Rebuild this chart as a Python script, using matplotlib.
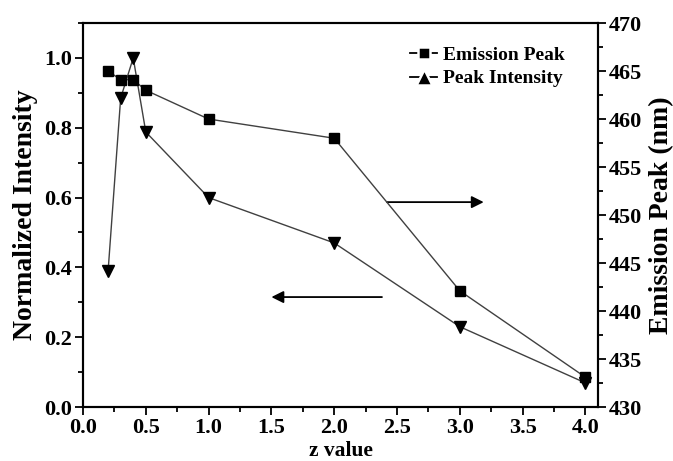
import matplotlib
matplotlib.use('Agg')
import matplotlib.pyplot as plt
from matplotlib.ticker import MultipleLocator, FormatStrFormatter
from matplotlib.lines import Line2D

# data
z = [0.2, 0.3, 0.4, 0.5, 1.0, 2.0, 3.0, 4.0]
intensity = [0.39, 0.885, 1.0, 0.788, 0.60, 0.47, 0.23, 0.069]
emission = [465.0, 464.1, 464.1, 463.0, 460.0, 458.0, 442.1, 433.1]

plt.rcParams['font.family'] = ['Liberation Serif', 'DejaVu Serif']
plt.rcParams['font.weight'] = 'bold'

fig = plt.figure(figsize=(6.73, 4.61), dpi=100)
ax = fig.add_axes([0.1233, 0.1171, 0.7653, 0.8329])
ax2 = ax.twinx()

line_col = '#404040'
ax2.plot(z, emission, color=line_col, lw=1.0, marker='s', ms=7,
         mfc='black', mec='black')
ax.plot(z, intensity, color=line_col, lw=1.0, marker='v', ms=8,
        mfc='black', mec='black')

ax.set_xlim(0, 4.1)
ax.set_ylim(0, 1.1)
ax2.set_ylim(430, 470)

ax.xaxis.set_major_locator(MultipleLocator(0.5))
ax.xaxis.set_minor_locator(MultipleLocator(0.25))
ax.yaxis.set_major_locator(MultipleLocator(0.2))
ax.yaxis.set_minor_locator(MultipleLocator(0.1))
ax2.yaxis.set_major_locator(MultipleLocator(5))
ax2.yaxis.set_minor_locator(MultipleLocator(2.5))
ax.xaxis.set_major_formatter(FormatStrFormatter('%.1f'))
ax.yaxis.set_major_formatter(FormatStrFormatter('%.1f'))

for a in (ax, ax2):
    a.tick_params(which='major', direction='out', length=6, width=1.3, labelsize=16, pad=2)
    a.tick_params(which='minor', direction='out', length=3.5, width=1.3)
    for sp in a.spines.values():
        sp.set_linewidth(1.5)
ax.tick_params(top=False, right=False)
ax.tick_params(which='minor', top=False, right=False)

ax.set_xlabel('z value', fontsize=15.5, fontweight='bold', labelpad=2)
ax.set_ylabel('Normalized Intensity', fontsize=20, fontweight='bold', labelpad=4)
ax2.set_ylabel('Emission Peak (nm)', fontsize=20, fontweight='bold', labelpad=5)

# arrows pointing to the relevant axis
ax.annotate('', xy=(3.19, 0.587), xytext=(2.42, 0.587),
            arrowprops=dict(arrowstyle='-|>', color='black', lw=1.3,
                            mutation_scale=18, shrinkA=0, shrinkB=0))
ax.annotate('', xy=(1.50, 0.315), xytext=(2.38, 0.315),
            arrowprops=dict(arrowstyle='-|>', color='black', lw=1.3,
                            mutation_scale=18, shrinkA=0, shrinkB=0))

# legend handles look like "-■-": white marker edge leaves a gap each side
lh1 = Line2D([], [], color='black', lw=1.3, marker='s', ms=8,
             mfc='black', mec='white', mew=1.8)
lh2 = Line2D([], [], color='black', lw=1.3, marker='^', ms=11,
             mfc='black', mec='white', mew=1.8)
ax2.legend([lh1, lh2], ['Emission Peak', 'Peak Intensity'], loc='upper right',
           bbox_to_anchor=(0.97, 0.985), frameon=False, fontsize=14,
           handlelength=1.4, handletextpad=0.3, labelspacing=0.3)

fig.savefig('out.png', dpi=100)
